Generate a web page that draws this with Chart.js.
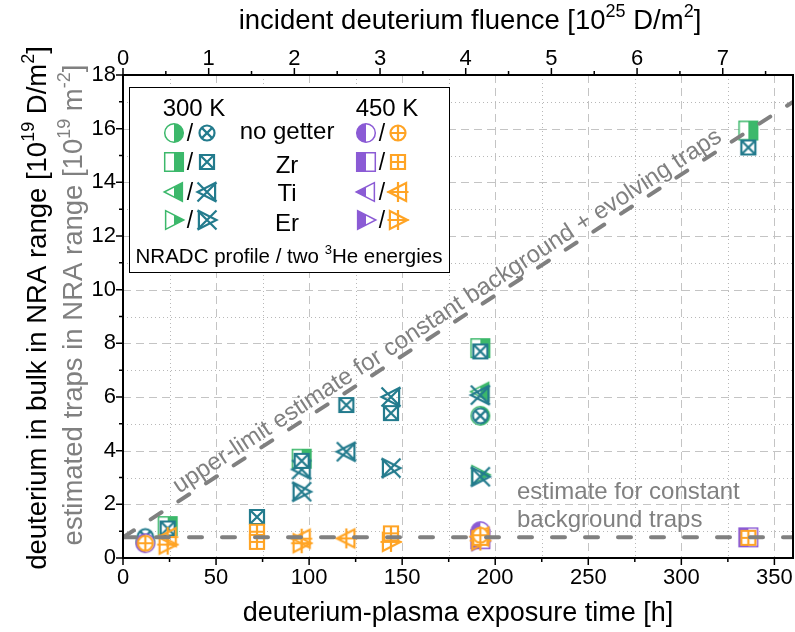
<!DOCTYPE html>
<html><head><meta charset="utf-8">
<script src="https://cdn.jsdelivr.net/npm/chart.js@4.4.1/dist/chart.umd.min.js"></script>
<style>html,body{margin:0;padding:0;background:#fff;overflow:hidden}</style>
</head><body>
<canvas id="c" width="795" height="632"></canvas>
<script>
// ---------------- data ----------------
// 300 K, NRADC profile (green, half filled)
const tNoGetter300N = [12, 192];          const vNoGetter300N = [0.62, 5.30];
const tZr300N       = [24, 96, 192, 336];  const vZr300N       = [1.19, 3.70, 7.82, 15.93];
const tTi300N       = [192];               const vTi300N       = [6.20];
const tEr300N       = [192];               const vEr300N       = [3.10];
// 300 K, two 3He energies (teal, crossed)
const tNoGetter300H = [12, 192];          const vNoGetter300H = [0.80, 5.30];
const tZr300H       = [24, 72, 96, 120, 144, 192, 336];
const vZr300H       = [1.10, 1.53, 3.62, 5.70, 5.40, 7.70, 15.30];
const tTi300H       = [96, 120, 144, 192]; const vTi300H       = [3.30, 3.96, 6.00, 6.07];
const tEr300H       = [96, 144, 192];      const vEr300H       = [2.47, 3.35, 3.03];
// 450 K, NRADC profile (purple, half filled)
const tNoGetter450N = [12, 192];          const vNoGetter450N = [0.55, 1.00];
const tZr450N       = [192, 336];          const vZr450N       = [0.70, 0.77];
const tTi450N       = [192];               const vTi450N       = [0.78];
const tEr450N       = [192];               const vEr450N       = [0.62];
// 450 K, two 3He energies (orange, plus)
const tNoGetter450H = [12, 192];          const vNoGetter450H = [0.55, 0.85];
const tZr450H       = [72, 72, 144, 192, 336]; const vZr450H   = [0.98, 0.60, 0.92, 0.75, 0.75];
const tTi450H       = [24, 96, 120, 192];  const vTi450H       = [0.78, 0.72, 0.73, 0.80];
const tEr450H       = [24, 96, 144, 192];  const vEr450H       = [0.50, 0.55, 0.60, 0.65];
// estimate lines
const constTrapTime = [0, 360];  const constTrapVal = [0.77, 0.77];
const evolveTime    = [0, 360];  const evolveVal    = [0.77, 17.0];
// axes
const timeTicks      = [0, 50, 100, 150, 200, 250, 300, 350];
const timeMinorTicks = [25, 75, 125, 175, 225, 275, 325];
const fluenceTicks      = [0, 1, 2, 3, 4, 5, 6, 7];
const fluenceMinorTicks = [0.5, 1.5, 2.5, 3.5, 4.5, 5.5, 6.5, 7.5];
const fluenceMax = 7.82;
const yTicks      = [0, 2, 4, 6, 8, 10, 12, 14, 16, 18];
const yMinorTicks = [1, 3, 5, 7, 9, 11, 13, 15, 17];

// ---------------- styling ----------------
const FONT = "'Liberation Sans', Arial, Helvetica, sans-serif";
const GREEN = '#3cb86b', TEAL = '#237b8d', PURPLE = '#8b5bd5', ORANGE = '#ffa425', GRAY = '#808080';

function mk(size, draw) {
  const c = document.createElement('canvas');
  c.width = size; c.height = size;
  const g = c.getContext('2d');
  g.translate(size / 2, size / 2);
  draw(g);
  return c;
}
function shapePath(g, shape, s) {
  g.beginPath();
  if (shape === 'circle') g.arc(0, 0, s, 0, Math.PI * 2);
  else if (shape === 'square') g.rect(-s, -s, 2 * s, 2 * s);
  else if (shape === 'tl') { g.moveTo(-s * 1.05, 0); g.lineTo(s * 0.9, -s); g.lineTo(s * 0.9, s); g.closePath(); }
  else if (shape === 'tr') { g.moveTo(s * 1.05, 0); g.lineTo(-s * 0.9, -s); g.lineTo(-s * 0.9, s); g.closePath(); }
}
function halfMarker(shape, color, side) {
  return mk(28, g => {
    const s = 9.3;
    shapePath(g, shape, s); g.fillStyle = '#fff'; g.fill();
    g.save(); shapePath(g, shape, s); g.clip();
    g.fillStyle = color;
    if (side === 'right') g.fillRect(0, -14, 14, 28); else g.fillRect(-14, -14, 14, 28);
    g.restore();
    shapePath(g, shape, s); g.lineWidth = 1.5; g.strokeStyle = color; g.stroke();
  });
}
function decoMarker(shape, color, deco) {
  return mk(28, g => {
    g.strokeStyle = color; g.lineWidth = 2.2;
    const s = shape === 'circle' ? 7.5 : shape === 'square' ? 7 : 9;
    shapePath(g, shape, s);
    if (shape === 'circle' || shape === 'square') { g.fillStyle = '#fff'; g.fill(); }
    g.stroke();
    g.beginPath();
    if (deco === 'x') {
      const d = shape === 'circle' ? s * 0.72 : shape === 'square' ? s : 9.5;
      g.moveTo(-d, -d); g.lineTo(d, d); g.moveTo(-d, d); g.lineTo(d, -d);
    } else {
      const d = (shape === 'circle' || shape === 'square') ? s : 10.5;
      g.moveTo(-d, 0); g.lineTo(d, 0); g.moveTo(0, -d * 0.95); g.lineTo(0, d * 0.95);
    }
    g.stroke();
  });
}
const M = {
  ng300N: halfMarker('circle', GREEN, 'right'), zr300N: halfMarker('square', GREEN, 'right'),
  ti300N: halfMarker('tl', GREEN, 'right'),     er300N: halfMarker('tr', GREEN, 'right'),
  ng300H: decoMarker('circle', TEAL, 'x'),      zr300H: decoMarker('square', TEAL, 'x'),
  ti300H: decoMarker('tl', TEAL, 'x'),          er300H: decoMarker('tr', TEAL, 'x'),
  ng450N: halfMarker('circle', PURPLE, 'left'), zr450N: halfMarker('square', PURPLE, 'left'),
  ti450N: halfMarker('tl', PURPLE, 'left'),     er450N: halfMarker('tr', PURPLE, 'left'),
  ng450H: decoMarker('circle', ORANGE, '+'),    zr450H: decoMarker('square', ORANGE, '+'),
  ti450H: decoMarker('tl', ORANGE, '+'),        er450H: decoMarker('tr', ORANGE, '+')
};

function pts(t, v) { return t.map((x, i) => ({ x: x, y: v[i] })); }
function ds(label, t, v, style, order) {
  // the marker image sets the drawn size; a small radius keeps the layout from reserving extra room
  return { label, data: pts(t, v), pointStyle: style, pointRadius: 1, pointHoverRadius: 1,
           pointBorderWidth: 0, showLine: false, order };
}
const datasets = [
  { label: 'constant background traps', data: pts(constTrapTime, constTrapVal), showLine: true,
    pointRadius: 0, borderColor: GRAY, borderWidth: 4, borderDash: [13, 20], borderCapStyle: 'round', order: 0 },
  { label: 'constant + evolving traps', data: pts(evolveTime, evolveVal), showLine: true,
    pointRadius: 0, borderColor: GRAY, borderWidth: 4, borderDash: [13, 20], borderCapStyle: 'round', order: 0 },
  ds('no getter 300 K NRADC', tNoGetter300N, vNoGetter300N, M.ng300N, 4),
  ds('Zr 300 K NRADC', tZr300N, vZr300N, M.zr300N, 4),
  ds('Ti 300 K NRADC', tTi300N, vTi300N, M.ti300N, 4),
  ds('Er 300 K NRADC', tEr300N, vEr300N, M.er300N, 4),
  ds('no getter 300 K 3He', tNoGetter300H, vNoGetter300H, M.ng300H, 3),
  ds('Zr 300 K 3He', tZr300H, vZr300H, M.zr300H, 3),
  ds('Ti 300 K 3He', tTi300H, vTi300H, M.ti300H, 3),
  ds('Er 300 K 3He', tEr300H, vEr300H, M.er300H, 3),
  ds('no getter 450 K NRADC', tNoGetter450N, vNoGetter450N, M.ng450N, 2),
  ds('Zr 450 K NRADC', tZr450N, vZr450N, M.zr450N, 2),
  ds('Ti 450 K NRADC', tTi450N, vTi450N, M.ti450N, 2),
  ds('Er 450 K NRADC', tEr450N, vEr450N, M.er450N, 2),
  ds('no getter 450 K 3He', tNoGetter450H, vNoGetter450H, M.ng450H, 1),
  ds('Zr 450 K 3He', tZr450H, vZr450H, M.zr450H, 1),
  ds('Ti 450 K 3He', tTi450H, vTi450H, M.ti450H, 1),
  ds('Er 450 K 3He', tEr450H, vEr450H, M.er450H, 1)
];

// rich text (with superscripts)
function drawRich(ctx, parts, x, y, rot, color, size, align) {
  ctx.save();
  ctx.translate(x, y); ctx.rotate(rot || 0);
  ctx.fillStyle = color; ctx.textBaseline = 'alphabetic'; ctx.textAlign = 'left';
  const supSize = Math.round(size * 0.64);
  let total = 0;
  parts.forEach(p => { ctx.font = (p.sup ? supSize : size) + 'px ' + FONT; p.w = ctx.measureText(p.t).width; total += p.w; });
  let cx = align === 'left' ? 0 : -total / 2;
  parts.forEach(p => {
    ctx.font = (p.sup ? supSize : size) + 'px ' + FONT;
    ctx.fillText(p.t, cx, p.sup ? -size * 0.42 : 0);
    cx += p.w;
  });
  ctx.restore();
}

const gridPlugin = {
  id: 'gridPlugin',
  beforeDatasetsDraw(chart) {
    const { ctx, chartArea: a, scales: { x, y } } = chart;
    ctx.save();
    ctx.lineWidth = 1;
    const line = (x0, y0, x1, y1) => { ctx.beginPath(); ctx.moveTo(x0, y0); ctx.lineTo(x1, y1); ctx.stroke(); };
    ctx.strokeStyle = '#c4c4c4'; ctx.setLineDash([8, 5]);
    timeTicks.forEach(v => { if (v > 0) { const p = Math.round(x.getPixelForValue(v)) + 0.5; line(p, a.top, p, a.bottom); } });
    yTicks.forEach(v => { if (v > 0 && v < 18) { const p = Math.round(y.getPixelForValue(v)) + 0.5; line(a.left, p, a.right, p); } });
    ctx.strokeStyle = '#b8b8b8'; ctx.setLineDash([1, 3]);
    timeMinorTicks.forEach(v => { const p = Math.round(x.getPixelForValue(v)) + 0.5; line(p, a.top, p, a.bottom); });
    yMinorTicks.forEach(v => { const p = Math.round(y.getPixelForValue(v)) + 0.5; line(a.left, p, a.right, p); });
    ctx.restore();
  },
  afterDatasetsDraw(chart) {
    const { ctx, chartArea: a, scales: { x, y } } = chart;
    // annotations
    const p0x = x.getPixelForValue(evolveTime[0]), p0y = y.getPixelForValue(evolveVal[0]);
    const p1x = x.getPixelForValue(evolveTime[1]), p1y = y.getPixelForValue(evolveVal[1]);
    const ang = Math.atan2(p1y - p0y, p1x - p0x);
    const tc = 178;
    const cx = x.getPixelForValue(tc);
    const cy = p0y + (p1y - p0y) * (tc - evolveTime[0]) / (evolveTime[1] - evolveTime[0]);
    const off = 6;
    drawRich(ctx, [{ t: 'upper-limit estimate for constant background + evolving traps' }],
      cx + off * Math.sin(ang), cy - off * Math.cos(ang), ang, GRAY, 24);
    drawRich(ctx, [{ t: 'estimate for constant' }], 517, 499, 0, GRAY, 24, 'left');
    drawRich(ctx, [{ t: 'background traps' }], 517, 527, 0, GRAY, 24, 'left');

    // legend box
    ctx.save();
    ctx.fillStyle = '#fff'; ctx.fillRect(129, 87, 321, 186);
    ctx.strokeStyle = '#000'; ctx.lineWidth = 1; ctx.strokeRect(129.5, 87.5, 320, 185);
    ctx.restore();
    drawRich(ctx, [{ t: '300 K' }], 194, 116, 0, '#000', 24);
    drawRich(ctx, [{ t: '450 K' }], 387, 116, 0, '#000', 24);
    const rows = [
      ['no getter', M.ng300N, M.ng300H, M.ng450N, M.ng450H],
      ['Zr', M.zr300N, M.zr300H, M.zr450N, M.zr450H],
      ['Ti', M.ti300N, M.ti300H, M.ti450N, M.ti450H],
      ['Er', M.er300N, M.er300H, M.er450N, M.er450H]
    ];
    const rowY = [133, 162, 192, 220];
    const textY = [139, 173, 201, 231];
    rows.forEach((r, i) => {
      const yy = rowY[i];
      const img = (c, px) => ctx.drawImage(c, px - c.width / 2, yy - c.height / 2);
      img(r[1], 174); img(r[2], 207); img(r[3], 366); img(r[4], 398);
      drawRich(ctx, [{ t: '/' }], 190, yy + 8, 0, '#000', 23);
      drawRich(ctx, [{ t: '/' }], 382, yy + 8, 0, '#000', 23);
      drawRich(ctx, [{ t: r[0] }], 287, textY[i], 0, '#000', 24);
    });
    drawRich(ctx, [{ t: 'NRADC profile / two ' }, { t: '3', sup: true }, { t: 'He energies' }], 289, 263, 0, '#000', 20.5);
  },
  afterDraw(chart) {
    const { ctx, chartArea: a, scales: { x, x2, y } } = chart;
    ctx.save();
    ctx.strokeStyle = '#000'; ctx.lineWidth = 1.5;
    ctx.beginPath();
    const vt = (v, s, len) => { const p = s.getPixelForValue(v); ctx.moveTo(p, a.bottom); ctx.lineTo(p, a.bottom + len); };
    timeTicks.forEach(v => vt(v, x, 7)); timeMinorTicks.forEach(v => vt(v, x, 4));
    const tt = (v, len) => { const p = x2.getPixelForValue(v); ctx.moveTo(p, a.top); ctx.lineTo(p, a.top - len); };
    fluenceTicks.forEach(v => tt(v, 7)); fluenceMinorTicks.forEach(v => { if (v < fluenceMax) tt(v, 4); });
    const yt = (v, len) => { const p = y.getPixelForValue(v); ctx.moveTo(a.left, p); ctx.lineTo(a.left - len, p); };
    yTicks.forEach(v => yt(v, 7)); yMinorTicks.forEach(v => yt(v, 4));
    ctx.stroke();
    ctx.lineWidth = 2;
    ctx.strokeRect(a.left, a.top, a.right - a.left, a.bottom - a.top);
    ctx.restore();
    // axis titles
    drawRich(ctx, [{ t: 'incident deuterium fluence [10' }, { t: '25', sup: true }, { t: ' D/m' }, { t: '2', sup: true }, { t: ']' }],
      470, 29, 0, '#000', 27.5);
    drawRich(ctx, [{ t: 'deuterium-plasma exposure time [h]' }], 458, 621, 0, '#000', 27);
    drawRich(ctx, [{ t: 'deuterium in bulk in NRA range [10' }, { t: '19', sup: true }, { t: ' D/m' }, { t: '2', sup: true }, { t: ']' }],
      46, 308, -Math.PI / 2, '#000', 27.5);
    drawRich(ctx, [{ t: 'estimated traps in NRA range [10' }, { t: '19', sup: true }, { t: ' m' }, { t: '-2', sup: true }, { t: ']' }],
      82, 305, -Math.PI / 2, GRAY, 27.5);
  }
};

const tickFont = { family: FONT, size: 22 };
const noPad = s => { s.paddingLeft = 0; s.paddingRight = 0; };
new Chart(document.getElementById('c'), {
  type: 'scatter',
  data: { datasets },
  options: {
    responsive: false, animation: false, devicePixelRatio: 1,
    events: [],
    layout: { padding: { left: 0, right: 2, top: 0, bottom: 0 } },
    plugins: { legend: { display: false }, tooltip: { enabled: false } },
    scales: {
      x: {
        type: 'linear', position: 'bottom', min: 0, max: 360,
        afterBuildTicks: s => { s.ticks = timeTicks.map(v => ({ value: v })); },
        afterFit: s => { s.height = 74; noPad(s); },
        grid: { display: false, drawTicks: true, tickLength: 7 },
        border: { display: false },
        ticks: { font: tickFont, color: '#000', padding: 0, maxRotation: 0, autoSkip: false }
      },
      x2: {
        type: 'linear', position: 'top', min: 0, max: fluenceMax,
        afterBuildTicks: s => { s.ticks = fluenceTicks.map(v => ({ value: v })); },
        afterFit: s => { s.height = 75; noPad(s); },
        grid: { display: false, drawTicks: true, tickLength: 7 },
        border: { display: false },
        ticks: { font: tickFont, color: '#000', padding: -4, maxRotation: 0, autoSkip: false }
      },
      y: {
        type: 'linear', position: 'left', min: 0, max: 18,
        afterBuildTicks: s => { s.ticks = yTicks.map(v => ({ value: v })); },
        afterFit: s => { s.width = 123; s.paddingTop = 0; s.paddingBottom = 0; },
        grid: { display: false, drawTicks: true, tickLength: 7 },
        border: { display: false },
        ticks: { font: tickFont, color: '#000', padding: 0, autoSkip: false }
      }
    }
  },
  plugins: [gridPlugin]
});
</script>
</body></html>
